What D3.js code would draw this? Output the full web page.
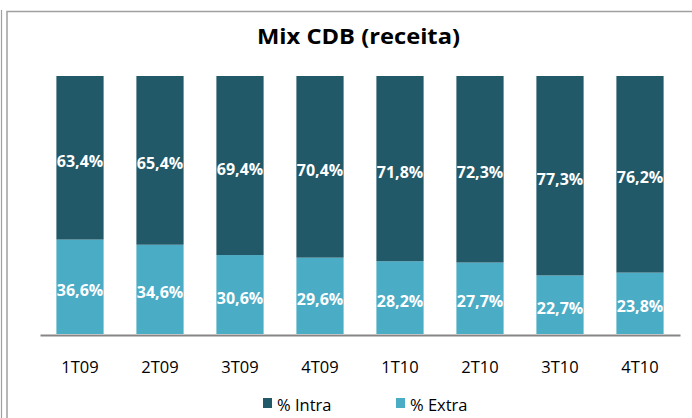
<!DOCTYPE html>
<html><head><meta charset="utf-8">
<script src="https://cdn.jsdelivr.net/npm/d3@7"></script>
<style>body{margin:0;background:#fff}svg{display:block}</style>
</head><body>
<script>
const categories = ["1T09","2T09","3T09","4T09","1T10","2T10","3T10","4T10"];
const intra = [63.4,65.4,69.4,70.4,71.8,72.3,77.3,76.2];
const extra = [36.6,34.6,30.6,29.6,28.2,27.7,22.7,23.8];
const seriesNames = ["% Intra","% Extra"];
const colors = {"% Intra":"#215968","% Extra":"#4bacc6"};
const title = "Mix CDB (receita)";

const W=692,H=418;
const svg=d3.select("body").append("svg").attr("width",W).attr("height",H);
const font="'Open Sans', sans-serif";

// borders
svg.append("line").attr("x1",1.5).attr("x2",1.5).attr("y1",10).attr("y2",H).attr("stroke","#a0a0a0").attr("stroke-width",1.2);
svg.append("rect").attr("x",7).attr("y",11.5).attr("width",720).attr("height",500).attr("fill","none").attr("stroke","#a0a0a0").attr("stroke-width",1.5);

const x=d3.scaleBand().domain(categories).range([40,680]).paddingInner(0.41).paddingOuter(0.205);
const y=d3.scaleLinear().domain([0,100]).range([334,76]);

const rows=categories.map((c,i)=>({cat:c,"% Extra":extra[i],"% Intra":intra[i]}));
const stack=d3.stack().keys(["% Extra","% Intra"])(rows);

const g=svg.append("g");
stack.forEach(layer=>{
  g.selectAll(null).data(layer).enter().append("rect")
   .attr("x",d=>x(d.data.cat)).attr("width",x.bandwidth())
   .attr("y",d=>y(d[1])).attr("height",d=>y(d[0])-y(d[1]))
   .attr("fill",colors[layer.key]);
  g.selectAll(null).data(layer).enter().append("text")
   .attr("x",d=>x(d.data.cat)+x.bandwidth()/2)
   .attr("y",d=>(y(d[0])+y(d[1]))/2+3)
   .attr("dominant-baseline","central")
   .attr("text-anchor","middle")
   .attr("fill","#fff").attr("font-family",font).attr("font-weight","bold").attr("font-size",16)
   .text(d=>(d[1]-d[0]).toFixed(1).replace(".",",")+"%");
});

// axis
const ax=svg.append("g").attr("transform","translate(0,335)").call(d3.axisBottom(x).tickSize(0).tickPadding(26.5));
ax.select(".domain").attr("stroke","#868686").attr("stroke-width",2);
ax.selectAll("text").attr("font-family",font).attr("font-size",16.5).attr("fill","#000");

// title
svg.append("text").attr("x",358.5).attr("y",44).attr("text-anchor","middle")
  .attr("font-family",font).attr("font-weight","bold").attr("font-size",21.5).attr("fill","#000")
  .attr("textLength",203).attr("lengthAdjust","spacingAndGlyphs").text(title);

// legend
const legX=[263,396];
seriesNames.forEach((s,i)=>{
  svg.append("rect").attr("x",legX[i]).attr("y",398).attr("width",9).attr("height",10).attr("fill",colors[s]);
  svg.append("text").attr("x",legX[i]+14).attr("y",410.5).attr("font-family",font).attr("font-size",16.5).attr("fill","#000").text(s);
});
</script>
</body></html>
